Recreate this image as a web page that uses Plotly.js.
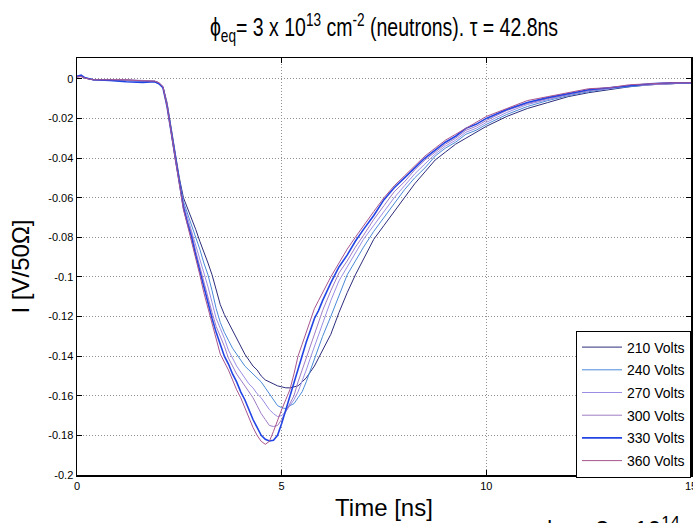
<!DOCTYPE html>
<html><head><meta charset="utf-8">
<script src="https://cdn.plot.ly/plotly-3.0.1.min.js"></script>
<style>body{margin:0;background:#fff}</style>
</head><body><div id="chart" style="width:693px;height:523px"></div>
<script>
const time = [0, 0.1, 0.2, 0.4, 0.8, 1.2, 1.6, 1.9, 2.0, 2.1, 2.2, 2.3, 2.4, 2.5,
  2.6, 2.7, 2.8, 2.9, 3.0, 3.1, 3.2, 3.3, 3.4, 3.5,
  3.6, 3.7, 3.8, 3.9, 4.0, 4.1, 4.2, 4.3, 4.4, 4.5,
  4.6, 4.7, 4.8, 4.9, 5.0, 5.1, 5.2, 5.3, 5.4, 5.5,
  5.6, 5.7, 5.8, 5.9, 6.0,
  6.2, 6.4, 6.6, 6.8, 7.0,
  7.25, 7.5, 7.75, 8.0, 8.25, 8.5, 8.75, 9.0, 9.25, 9.5, 9.75, 10.0,
  10.5, 11.0, 11.5, 12.0, 12.5, 13.0, 13.5, 14.0, 14.5, 15.0];

const v210 = [0.001, 0.0012, 0.0003, -0.0005, -0.0005, -0.0008, -0.001, -0.0012, -0.002, -0.004, -0.012, -0.025, -0.039, -0.050,
  -0.060, -0.065, -0.070, -0.076, -0.082, -0.087, -0.093, -0.099, -0.107, -0.114,
  -0.119, -0.123, -0.127, -0.131, -0.135, -0.139, -0.142, -0.145, -0.147, -0.150,
  -0.152, -0.153, -0.154, -0.155, -0.1555, -0.156, -0.156, -0.1555, -0.155, -0.153,
  -0.151, -0.148, -0.145, -0.141, -0.137,
  -0.129, -0.118, -0.108, -0.099, -0.091,
  -0.081, -0.074, -0.067, -0.060, -0.053, -0.047, -0.041, -0.037, -0.033, -0.030, -0.027, -0.024,
  -0.019, -0.015, -0.012, -0.009, -0.007, -0.0055, -0.004, -0.003, -0.0025, -0.002];

const v240 = [0.0012, 0.0015, 0.0005, -0.0005, -0.0005, -0.0005, -0.0012, -0.0015, -0.0025, -0.0045, -0.013, -0.026, -0.040, -0.051,
  -0.062, -0.068, -0.074, -0.079, -0.086, -0.093, -0.099, -0.107, -0.116, -0.123,
  -0.128, -0.132, -0.136, -0.139, -0.142, -0.145, -0.147, -0.149, -0.151, -0.153,
  -0.156, -0.159, -0.162, -0.165, -0.166, -0.1665, -0.165, -0.164, -0.161, -0.158,
  -0.153, -0.147, -0.141, -0.136, -0.130,
  -0.120, -0.109, -0.099, -0.092, -0.085,
  -0.077, -0.070, -0.063, -0.056, -0.050, -0.045, -0.039, -0.035, -0.032, -0.028, -0.026, -0.023,
  -0.018, -0.014, -0.011, -0.0085, -0.0065, -0.005, -0.004, -0.003, -0.0025, -0.002];

const v270 = [0.0015, 0.001, 0.0002, -0.0005, -0.0005, -0.0005, -0.001, -0.0012, -0.002, -0.004, -0.013, -0.026, -0.041, -0.052,
  -0.063, -0.070, -0.076, -0.083, -0.090, -0.098, -0.105, -0.113, -0.121, -0.126,
  -0.131, -0.137, -0.141, -0.145, -0.148, -0.151, -0.154, -0.156, -0.159, -0.161,
  -0.164, -0.167, -0.169, -0.1705, -0.170, -0.168, -0.165, -0.162, -0.158, -0.153,
  -0.147, -0.141, -0.135, -0.129, -0.123,
  -0.112, -0.102, -0.095, -0.088, -0.081,
  -0.074, -0.067, -0.060, -0.054, -0.048, -0.043, -0.038, -0.034, -0.031, -0.027, -0.025, -0.022,
  -0.017, -0.013, -0.0105, -0.008, -0.006, -0.005, -0.0035, -0.003, -0.0025, -0.002];

const v300 = [0.0008, 0.0012, 0.0004, -0.0005, -0.0005, -0.0005, -0.0008, -0.0012, -0.002, -0.004, -0.013, -0.027, -0.041, -0.052,
  -0.064, -0.072, -0.078, -0.087, -0.095, -0.102, -0.110, -0.118, -0.125, -0.130,
  -0.135, -0.141, -0.145, -0.149, -0.152, -0.155, -0.158, -0.161, -0.165, -0.169,
  -0.172, -0.175, -0.1755, -0.175, -0.172, -0.168, -0.164, -0.160, -0.153, -0.147,
  -0.141, -0.135, -0.128, -0.122, -0.117,
  -0.107, -0.098, -0.092, -0.085, -0.079,
  -0.071, -0.064, -0.057, -0.052, -0.046, -0.041, -0.037, -0.033, -0.030, -0.026, -0.024, -0.021,
  -0.016, -0.0125, -0.010, -0.008, -0.006, -0.0045, -0.0035, -0.003, -0.0025, -0.002];

const v330 = [0.0012, 0.0018, 0.0005, -0.0005, -0.0008, -0.0015, -0.0018, -0.0015, -0.0025, -0.0045, -0.014, -0.027, -0.041, -0.053,
  -0.065, -0.073, -0.080, -0.089, -0.097, -0.106, -0.114, -0.121, -0.128, -0.134,
  -0.140, -0.144, -0.149, -0.153, -0.158, -0.162, -0.167, -0.172, -0.176, -0.180,
  -0.182, -0.1828, -0.1825, -0.180, -0.174, -0.167, -0.161, -0.154, -0.146, -0.139,
  -0.133, -0.127, -0.121, -0.117, -0.112,
  -0.103, -0.095, -0.089, -0.082, -0.076,
  -0.069, -0.061, -0.055, -0.050, -0.045, -0.040, -0.036, -0.032, -0.029, -0.025, -0.023, -0.020,
  -0.0155, -0.012, -0.0095, -0.0075, -0.0055, -0.0045, -0.0035, -0.0025, -0.002, -0.002];

const v360 = [0.001, 0.0012, 0.0003, -0.0005, -0.0005, -0.0005, -0.001, -0.0012, -0.002, -0.004, -0.014, -0.027, -0.042, -0.053,
  -0.066, -0.074, -0.082, -0.091, -0.099, -0.108, -0.116, -0.124, -0.131, -0.139,
  -0.143, -0.147, -0.152, -0.157, -0.161, -0.166, -0.171, -0.176, -0.180, -0.183,
  -0.1845, -0.183, -0.178, -0.172, -0.167, -0.162, -0.157, -0.149, -0.140, -0.134,
  -0.128, -0.121, -0.116, -0.112, -0.108,
  -0.100, -0.093, -0.086, -0.080, -0.074,
  -0.067, -0.060, -0.054, -0.049, -0.044, -0.039, -0.035, -0.031, -0.028, -0.025, -0.022, -0.019,
  -0.015, -0.011, -0.009, -0.007, -0.005, -0.0045, -0.003, -0.0025, -0.002, -0.002];

const seriesNames = ['210 Volts', '240 Volts', '270 Volts', '300 Volts', '330 Volts', '360 Volts'];
const seriesValues = [v210, v240, v270, v300, v330, v360];
const seriesColors = ['#2c2c7c', '#4a8ad8', '#9a8ee4', '#a07cc4', '#2244e4', '#a8558f'];
const seriesWidths = [1, 1, 1, 1, 1.6, 1];

const xTickVals = [0, 5, 10, 15];
const xTickText = ['0', '5', '10', '15'];
const yTickVals = [0, -0.02, -0.04, -0.06, -0.08, -0.1, -0.12, -0.14, -0.16, -0.18, -0.2];
const yTickText = ['0', '-0.02', '-0.04', '-0.06', '-0.08', '-0.1', '-0.12', '-0.14', '-0.16', '-0.18', '-0.2'];

const FONT = 'Liberation Sans, Arial, sans-serif';

const traces = seriesNames.map((n, i) => ({
  x: time, y: seriesValues[i], type: 'scatter', mode: 'lines', name: n,
  legendgroup: 'g' + i,
  line: {color: seriesColors[i], width: seriesWidths[i]}
}));

const axisCommon = {
  ticks: 'inside', ticklen: 5, tickcolor: '#000', tickwidth: 1,
  showline: true, linecolor: '#000', linewidth: 1.5, mirror: 'ticks',
  showgrid: true, gridcolor: '#909090', gridwidth: 1, griddash: '1px,2px',
  zeroline: false, tickfont: {family: FONT, size: 11, color: '#000'},
  ticklabeloverflow: 'allow'
};

const layout = {
  width: 693, height: 523,
  margin: {l: 77, r: 2, t: 58, b: 48},
  paper_bgcolor: '#fff', plot_bgcolor: '#fff',
  showlegend: true,
  title: {
    text: 'ϕ<sub>eq</sub>= 3 x 10<sup>13</sup> cm<sup>-2</sup> (neutrons). τ = 42.8ns',
    font: {family: FONT, size: 25, color: '#000'},
    xref: 'paper', x: 0.5, xanchor: 'center',
    yref: 'container', y: 0.947, yanchor: 'middle'
  },
  xaxis: Object.assign({}, axisCommon, {
    range: [0, 15], tickvals: xTickVals, ticktext: xTickText,
    title: {text: 'Time [ns]', font: {family: FONT, size: 24, color: '#000'}, standoff: 8}
  }),
  yaxis: Object.assign({}, axisCommon, {
    range: [-0.2, 0.0105], tickvals: yTickVals, ticktext: yTickText,
    title: {text: 'I [V/50Ω]', font: {family: FONT, size: 24, color: '#000'}, standoff: 12}
  }),
  legend: {
    x: 1, y: -0.006, xanchor: 'right', yanchor: 'bottom',
    bgcolor: '#fff', bordercolor: '#000', borderwidth: 1,
    font: {family: FONT, size: 14, color: '#000'},
    tracegroupgap: 1.5, traceorder: 'grouped', itemwidth: 40
  },
  annotations: [{
    text: 'ϕ<sub>eq</sub>= 3 x 10<sup>14</sup> cm<sup>-2</sup> (neutrons)',
    xref: 'paper', yref: 'paper', x: 0.756, y: -0.086,
    xanchor: 'left', yanchor: 'top', showarrow: false,
    font: {family: FONT, size: 24, color: '#000'}
  }]
};

Plotly.newPlot('chart', traces, layout, {displayModeBar: false, staticPlot: true}).then(() => {
  // the reference title is drawn in a horizontally condensed face
  const t = document.querySelector('#chart .gtitle');
  if (t) {
    const cx = parseFloat(t.getAttribute('x')) || 384;
    const prev = t.getAttribute('transform') || '';
    t.setAttribute('transform', prev + ' translate(' + cx + ',0) scale(0.78,1) translate(' + (-cx) + ',0)');
  }
});
</script>
</body></html>
